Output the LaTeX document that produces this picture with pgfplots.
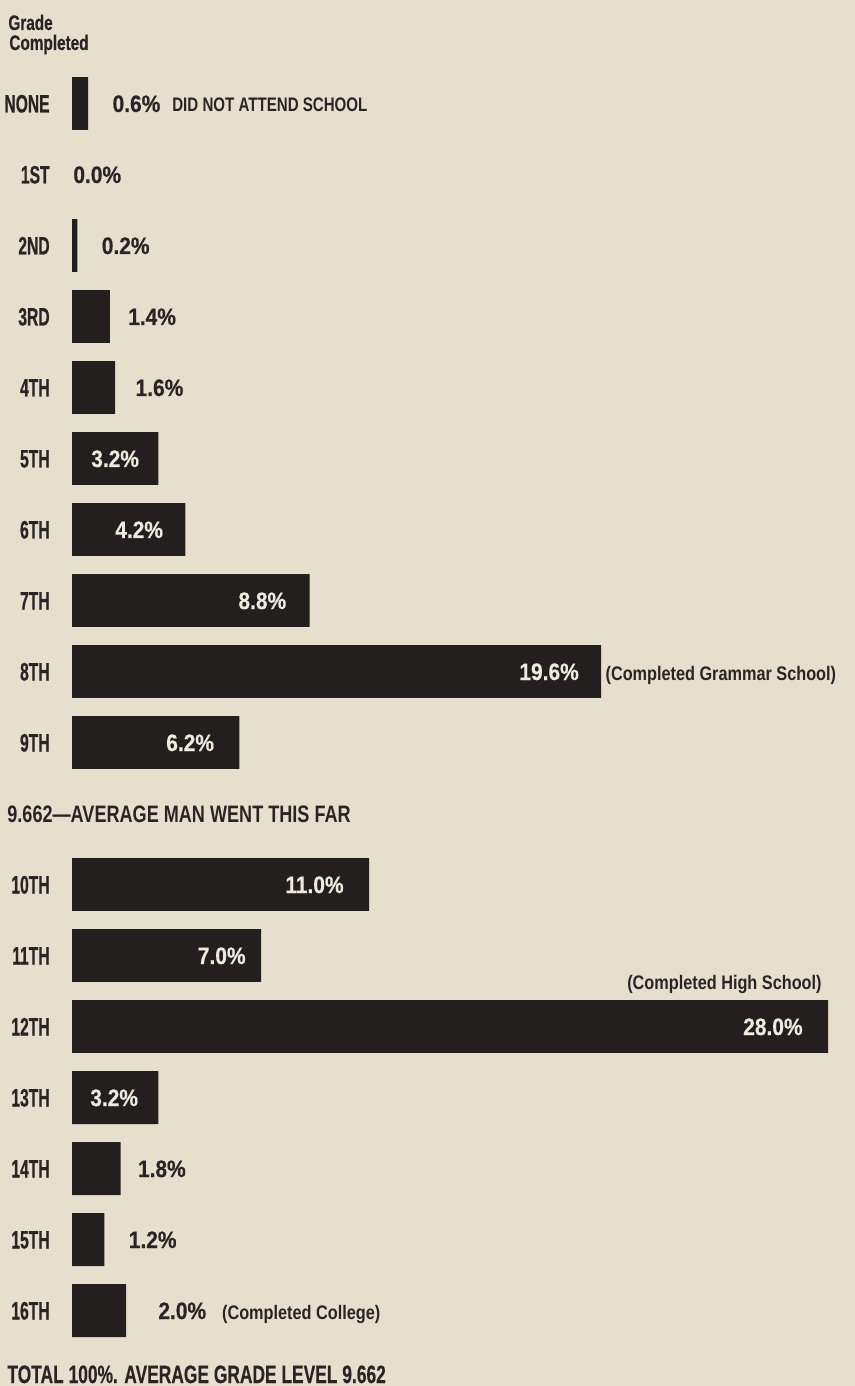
\documentclass[border=0pt]{standalone}
\usepackage{pgfplots}
\pgfplotsset{compat=1.18}
\usepackage{fontspec}
\setmainfont{Liberation Sans}
\newfontfamily\fG[FakeStretch=0.62,FakeBold=0.6]{Liberation Sans}
\newfontfamily\fV[FakeStretch=0.88,FakeBold=0.4]{Liberation Sans}
\newfontfamily\fH[FakeStretch=0.73,FakeBold=0.4]{Liberation Sans}
\newfontfamily\fD[FakeStretch=0.77]{Liberation Sans}
\newfontfamily\fP[FakeStretch=0.83]{Liberation Sans}
\newfontfamily\fA[FakeStretch=0.76]{Liberation Sans}
\newfontfamily\fT[FakeStretch=0.69,FakeBold=0.3]{Liberation Sans}
\definecolor{paper}{RGB}{231,223,205}
\definecolor{ink}{RGB}{36,31,31}
\definecolor{txt}{RGB}{42,37,37}
\definecolor{wtxt}{RGB}{238,234,224}
\tikzset{
 gl/.style={anchor=base east, xshift=-11bp, yshift=-4.5bp, inner sep=0pt, text=txt,
   font={\fG\bfseries\fontsize{12.6bp}{14bp}\selectfont}},
 vo/.style={anchor=base west, yshift=-4.25bp, inner sep=0pt, text=txt, xshift=#1,
   font={\fV\bfseries\fontsize{11.9bp}{14bp}\selectfont}},
 vi/.style={anchor=base east, yshift=-4.25bp, inner sep=0pt, text=wtxt, xshift=-#1,
   font={\fV\bfseries\fontsize{11.9bp}{14bp}\selectfont}},
}
\newcommand{\Pfont}{\fP\bfseries\fontsize{9.8bp}{12bp}\selectfont}
\begin{document}
\begin{tikzpicture}
\begin{axis}[
  scale only axis, width=427.5bp, height=693bp,
  xmin=-2.6667, xmax=29.0, ymin=-18.063, ymax=1.4577,
  axis line style={draw=none}, xtick=\empty, ytick=\empty,
  axis background/.style={fill=paper},
  clip=false,
]
\addplot[xbar, bar width=0.746, fill=ink, draw=none,
  x filter/.expression={x==0 ? nan : x}] coordinates {
 (0.6,0) (0.0,-1) (0.2,-2) (1.4,-3) (1.6,-4) (3.2,-5) (4.2,-6) (8.8,-7) (19.6,-8) (6.2,-9)
 (11.0,-11) (7.0,-12) (28.0,-13) (3.2,-14) (1.8,-15) (1.2,-16) (2.0,-17)
};
% header
\node[anchor=base west, inner sep=0pt, xshift=-32bp, yshift=36.75bp, text=txt,
  font={\fH\bfseries\fontsize{10.5bp}{12bp}\selectfont}] at (axis cs:0,0) {Grade};
\node[anchor=base west, inner sep=0pt, xshift=-31.5bp, yshift=26.75bp, text=txt,
  font={\fH\bfseries\fontsize{10.5bp}{12bp}\selectfont}] at (axis cs:0,0) {Completed};
% grade labels
\node[gl] at (axis cs:0,0) {NONE};
\node[gl] at (axis cs:0,-1) {1ST};
\node[gl] at (axis cs:0,-2) {2ND};
\node[gl] at (axis cs:0,-3) {3RD};
\node[gl] at (axis cs:0,-4) {4TH};
\node[gl] at (axis cs:0,-5) {5TH};
\node[gl] at (axis cs:0,-6) {6TH};
\node[gl] at (axis cs:0,-7) {7TH};
\node[gl] at (axis cs:0,-8) {8TH};
\node[gl] at (axis cs:0,-9) {9TH};
\node[gl] at (axis cs:0,-11) {10TH};
\node[gl] at (axis cs:0,-12) {11TH};
\node[gl] at (axis cs:0,-13) {12TH};
\node[gl] at (axis cs:0,-14) {13TH};
\node[gl] at (axis cs:0,-15) {14TH};
\node[gl] at (axis cs:0,-16) {15TH};
\node[gl] at (axis cs:0,-17) {16TH};
% value labels outside
\node[vo=12bp] at (axis cs:0.6,0) {0.6\%\hspace{6bp}{\fD\bfseries\fontsize{9.8bp}{12bp}\selectfont DID NOT ATTEND SCHOOL}};
\node[vo=0.5bp] at (axis cs:0.0,-1) {0.0\%};
\node[vo=12bp] at (axis cs:0.2,-2) {0.2\%};
\node[vo=9bp] at (axis cs:1.4,-3) {1.4\%};
\node[vo=10bp] at (axis cs:1.6,-4) {1.6\%};
\node[vo=8.5bp] at (axis cs:1.8,-15) {1.8\%};
\node[vo=12bp] at (axis cs:1.2,-16) {1.2\%};
\node[vo=16bp] at (axis cs:2.0,-17) {2.0\%\hspace{8bp}{\Pfont (Completed College)}};
% value labels inside
\node[vi=9.5bp] at (axis cs:3.2,-5) {3.2\%};
\node[vi=11bp] at (axis cs:4.2,-6) {4.2\%};
\node[vi=11.5bp] at (axis cs:8.8,-7) {8.8\%};
\node[vi=11bp] at (axis cs:19.6,-8) {19.6\%};
\node[vi=12.5bp] at (axis cs:6.2,-9) {6.2\%};
\node[vi=12.5bp] at (axis cs:11.0,-11) {11.0\%};
\node[vi=7.5bp] at (axis cs:7.0,-12) {7.0\%};
\node[vi=12.5bp] at (axis cs:28.0,-13) {28.0\%};
\node[vi=10bp] at (axis cs:3.2,-14) {3.2\%};
% notes
\node[anchor=base west, inner sep=0pt, xshift=2bp, yshift=-4.25bp, text=txt, font=\Pfont] at (axis cs:19.6,-8) {(Completed Grammar School)};
\node[anchor=base east, inner sep=0pt, xshift=-3bp, yshift=18.5bp, text=txt, font=\Pfont] at (axis cs:28.0,-13) {(Completed High School)};
\node[anchor=base west, inner sep=0pt, xshift=-32.5bp, yshift=-4.25bp, text=txt,
  font={\fA\bfseries\fontsize{11.9bp}{14bp}\selectfont}] at (axis cs:0,-10) {9.662\textemdash AVERAGE MAN WENT THIS FAR};
\node[anchor=base west, inner sep=0pt, xshift=-32.5bp, yshift=-0.75bp, text=txt,
  font={\fT\bfseries\fontsize{12.6bp}{14bp}\selectfont}] at (axis cs:0,-18) {TOTAL 100\%. AVERAGE GRADE LEVEL 9.662};
\end{axis}
\end{tikzpicture}
\end{document}
